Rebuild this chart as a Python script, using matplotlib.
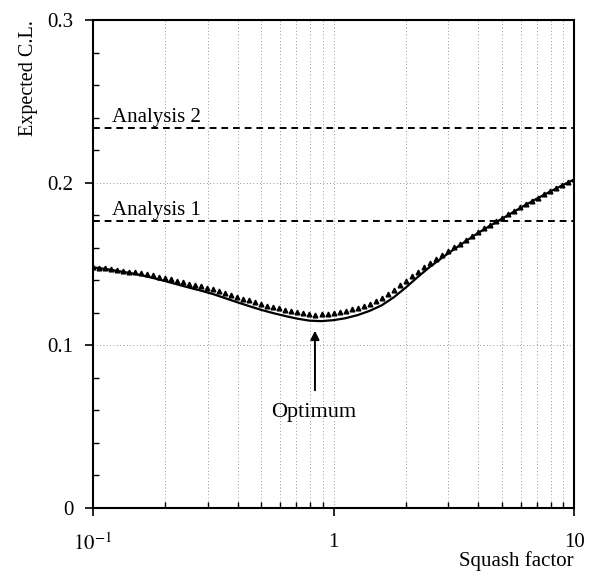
import numpy as np
import matplotlib.pyplot as plt
from matplotlib.ticker import FixedLocator, LogLocator, NullFormatter, MultipleLocator

# squash factor sampling for the two curves (log-spaced)
squash_line = np.logspace(-1, 1, 41)
squash_pts = np.logspace(-1, 1, 81)

# expected C.L., smooth calculation
cl_line = [0.1480, 0.1470, 0.1458, 0.1446, 0.1432, 0.1414, 0.1395, 0.1375,
           0.1355, 0.1336, 0.1315, 0.1290, 0.1265, 0.1241, 0.1218, 0.1198,
           0.1180, 0.1164, 0.1152, 0.1149, 0.1155, 0.1167, 0.1186, 0.1212,
           0.1246, 0.1295, 0.1355, 0.1420, 0.1482, 0.1537, 0.1590, 0.1641,
           0.1690, 0.1735, 0.1778, 0.1822, 0.1865, 0.1906, 0.1945, 0.1983,
           0.2020]

# expected C.L., simulated points
cl_pts = [0.1480, 0.1478, 0.1474, 0.1469,
          0.1463, 0.1459, 0.1454, 0.1449,
          0.1444, 0.1437, 0.1430, 0.1422,
          0.1415, 0.1406, 0.1398, 0.1389,
          0.1380, 0.1372, 0.1363, 0.1354,
          0.1345, 0.1333, 0.1321, 0.1310,
          0.1298, 0.1287, 0.1276, 0.1265,
          0.1254, 0.1245, 0.1236, 0.1227,
          0.1218, 0.1210, 0.1203, 0.1196,
          0.1190, 0.1188, 0.1190, 0.1194,
          0.1200, 0.1206, 0.1214, 0.1222,
          0.1230, 0.1242, 0.1256, 0.1272,
          0.1290, 0.1316, 0.1343, 0.1370,
          0.1397, 0.1424, 0.1452, 0.1479,
          0.1505, 0.1530, 0.1555, 0.1579,
          0.1602, 0.1626, 0.1650, 0.1674,
          0.1698, 0.1719, 0.1741, 0.1762,
          0.1783, 0.1805, 0.1826, 0.1848,
          0.1869, 0.1889, 0.1909, 0.1929,
          0.1948, 0.1966, 0.1984, 0.2002,
          0.2020]

# reference levels from the earlier analyses
analysis_names = ["Analysis 1", "Analysis 2"]
analysis_cl = [0.1765, 0.2336]

y_ticks = [0, 0.1, 0.2, 0.3]
y_ticklabels = ['0', '0.1', '0.2', '0.3']
x_ticks = [0.1, 1, 10]
x_ticklabels = ['$10^{-1}$', '1', '10']

optimum_x = 0.837

plt.rcParams['font.family'] = ['Liberation Serif', 'DejaVu Serif']
plt.rcParams['mathtext.fontset'] = 'stix'

fig = plt.figure(figsize=(5.98, 5.73), dpi=100)
ax = fig.add_axes([0.1555, 0.1134, 0.8045, 0.8516])

ax.set_xscale('log')
ax.set_xlim(0.1, 10)
ax.set_ylim(0, 0.3)

# dotted grid at minor x decades and major y ticks
for gx in [0.2, 0.3, 0.4, 0.5, 0.6, 0.7, 0.8, 0.9, 1, 2, 3, 4, 5, 6, 7, 8, 9]:
    ax.axvline(gx, color='0.45', lw=0.6, ls=(0, (1, 3)), zorder=0)
for gy in [0.1, 0.2]:
    ax.axhline(gy, color='0.45', lw=0.6, ls=(0, (1, 3)), zorder=0)

for name, lvl in zip(analysis_names, analysis_cl):
    ax.axhline(lvl, color='k', lw=1.4, ls=(0, (3.5, 2.5)))
    ax.text(0.12, lvl + 0.0035, name, fontsize=15, ha='left', va='baseline')

ax.plot(squash_line, cl_line, color='k', lw=1.6)
ax.plot(squash_pts, cl_pts, ls='none', marker='^', ms=3.4, color='k')

ax.annotate('', xy=(optimum_x, 0.1107), xytext=(optimum_x, 0.0707),
            arrowprops=dict(arrowstyle='-|>', color='k', lw=1.4, mutation_scale=13))
ax.text(0.83, 0.056, 'Optimum', fontsize=16, ha='center', va='baseline')

ax.xaxis.set_major_locator(FixedLocator(x_ticks))
ax.set_xticklabels(x_ticklabels)
ax.xaxis.set_minor_locator(LogLocator(base=10, subs=np.arange(2, 10)))
ax.xaxis.set_minor_formatter(NullFormatter())
ax.yaxis.set_major_locator(FixedLocator(y_ticks))
ax.set_yticklabels(y_ticklabels)
ax.yaxis.set_minor_locator(MultipleLocator(0.02))

ax.tick_params(which='major', direction='out', length=6, width=1.2, labelsize=15)
ax.tick_params(axis='x', which='major', pad=12)
ax.tick_params(axis='y', which='major', pad=8)
ax.tick_params(which='minor', direction='in', length=4, width=1.0)

for sp in ax.spines.values():
    sp.set_linewidth(1.5)

fig.text(0.96, 0.0125, 'Squash factor', fontsize=15, ha='right', va='baseline')
ax.set_ylabel('Expected C.L.', fontsize=14.5, loc='top', labelpad=7)

fig.savefig('out.png', dpi=100)
